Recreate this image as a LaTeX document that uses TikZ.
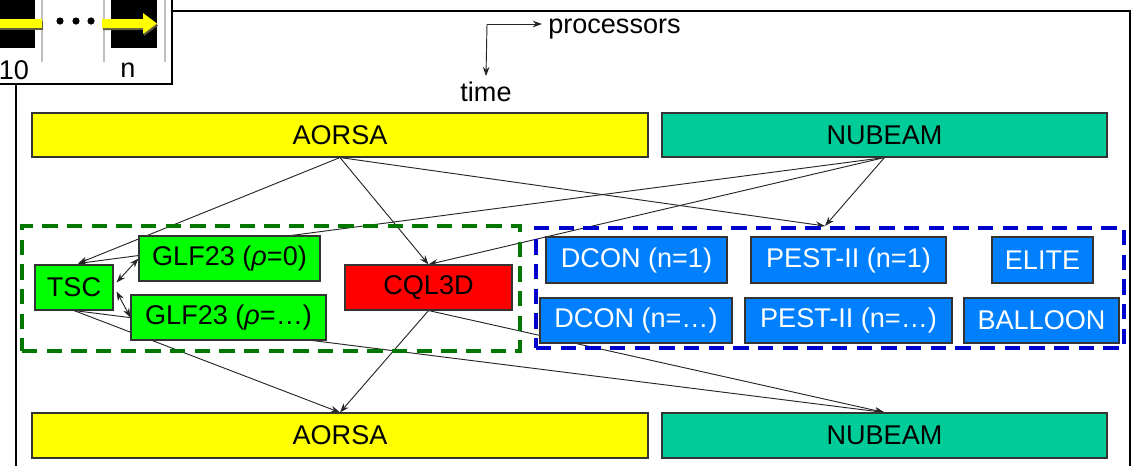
\documentclass[tikz,border=0pt]{standalone}
\usepackage{fontspec}
\setmainfont{Liberation Sans}
\usetikzlibrary{arrows.meta,calc,backgrounds}
\definecolor{cyel}{HTML}{FFFF00}
\definecolor{cteal}{HTML}{00CC99}
\definecolor{cgreen}{HTML}{00FF00}
\definecolor{cred}{HTML}{FF0000}
\definecolor{cblue}{HTML}{0080FF}
\definecolor{cgdash}{HTML}{007800}
\definecolor{cbdash}{HTML}{0000CC}
\newcommand\mkbox[7]{\node[#6, minimum width={(#4-#2)*0.75pt}, minimum height={(#5-#3)*0.75pt}] (#1) at ({(#2+#4)/2},{(#3+#5)/2}) {#7};}
\begin{document}
\begin{tikzpicture}[x=0.75pt,y=-0.75pt,
  every node/.style={font=\fontsize{20.3}{24}\selectfont},
  bx/.style={draw=black!80, line width=0.8pt, inner sep=0pt},
  blu/.style={bx, fill=cblue, text=white},
  grn/.style={bx, fill=cgreen},
  grpbox/.style={draw=cgdash, line width=3pt, dash pattern=on 11.5pt off 7pt, inner sep=0pt},
  stabbox/.style={draw=cbdash, line width=3pt, dash pattern=on 11.5pt off 7pt, inner sep=0pt},
  conn/.style={draw=black!85, line width=0.7pt, -{Stealth[length=7pt,width=5pt]}},
  dconn/.style={draw=black!85, line width=0.7pt, {Stealth[length=7pt,width=5pt]}-{Stealth[length=7pt,width=5pt]}},
  thinframe/.style={line width=1.5pt, draw=black}
]
\useasboundingbox (0,0) rectangle (1131,465);
% main frame
\draw[thinframe] (16,475) -- (16,11) -- (1130,11) -- (1130,475);
% inset
\draw[thinframe, fill=white] (-10,-10) rectangle (172,84);
\fill[black] (-10,-10) rectangle (35,48);
\fill[black] (111,-10) rectangle (157,48);
\foreach \xx in {42,104,165} \draw[black!25, line width=1pt] (\xx,-10) -- (\xx,62);
\fill[black!55!yellow!60!black] (-10,21) rectangle (43,30);
\fill[cyel] (-10,19) rectangle (42,28);
\fill[black!55!yellow!60!black] (103,21) -- (144,21) -- (144,15) -- (158,25.5) -- (144,36) -- (144,30) -- (103,30) -- cycle;
\fill[cyel] (102,19) -- (143,19) -- (143,13) -- (157,23.5) -- (143,34) -- (143,28) -- (102,28) -- cycle;
\foreach \xx in {60,76,91} \fill[black] (\xx,21) circle[radius=2.7pt];
\node (l10) at (14,70) {10};
\node (ln) at (128,70) {n};
% processors / time
\coordinate (corner) at (487,24);
\node[anchor=base west, inner sep=0pt] (proc) at (548,33) {processors};
\node[anchor=base, inner sep=0pt] (time) at (486,101) {time};
\draw[conn] (corner) -- ($(proc.west |- corner)+(-6,0)$);
\draw[conn] (corner) -- ($(time.north)+(0,-5)$);
% top row
\mkbox{aT}{32}{113}{648}{157}{bx, fill=cyel}{AORSA}
\mkbox{nT}{662}{113}{1107}{157}{bx, fill=cteal}{NUBEAM}
% groups
\mkbox{grp}{22}{226}{520}{351}{grpbox}{}
\mkbox{stab}{536}{228}{1124}{348}{stabbox}{}
% green group
\mkbox{tsc}{35}{265}{113}{310}{grn}{TSC}
\mkbox{g0}{139}{236}{320}{281}{grn}{GLF23 (\textit{ρ}=0)}
\mkbox{g1}{131}{295}{326}{340}{grn}{GLF23 (\textit{ρ}=…)}
\mkbox{cql}{345}{265}{512}{310}{bx, fill=cred}{CQL3D}
% blue group
\mkbox{d1}{546}{237}{727}{283}{blu}{DCON (n=1)}
\mkbox{p1}{751}{237}{946}{283}{blu}{PEST-II (n=1)}
\mkbox{el}{992}{237}{1093}{283}{blu}{ELITE}
\mkbox{dn}{540}{298}{732}{343}{blu}{DCON (n=…)}
\mkbox{pn}{745}{298}{952}{343}{blu}{PEST-II (n=…)}
\mkbox{ba}{964}{298}{1119}{343}{blu}{BALLOON}
% bottom row
\mkbox{aB}{32}{413}{648}{458}{bx, fill=cyel}{AORSA}
\mkbox{nB}{662}{413}{1107}{458}{bx, fill=cteal}{NUBEAM}
% connectors
\begin{pgfonlayer}{background}
\draw[conn] (aT.south) -- ($(tsc.north)+(4,-1)$);
\draw[conn] (aT.south) -- (cql.north);
\draw[conn] (aT.south) -- ($(stab.north)+(-5,0)$);
\draw[conn] (nT.south) -- ($(tsc.north)+(4,-1)$);
\draw[conn] (nT.south) -- (cql.north);
\draw[conn] (nT.south) -- ($(stab.north)+(-5,0)$);
\draw[dconn] ($(tsc.east)+(3,-5)$) -- (g0.west);
\draw[dconn] ($(tsc.east)+(3,4)$) -- (g1.west);
\draw[conn] (tsc.south) -- (aB.north);
\draw[conn] (cql.south) -- (aB.north);
\draw[conn] (tsc.south) -- (nB.north);
\draw[conn] (cql.south) -- (nB.north);
\end{pgfonlayer}
\end{tikzpicture}
\end{document}
